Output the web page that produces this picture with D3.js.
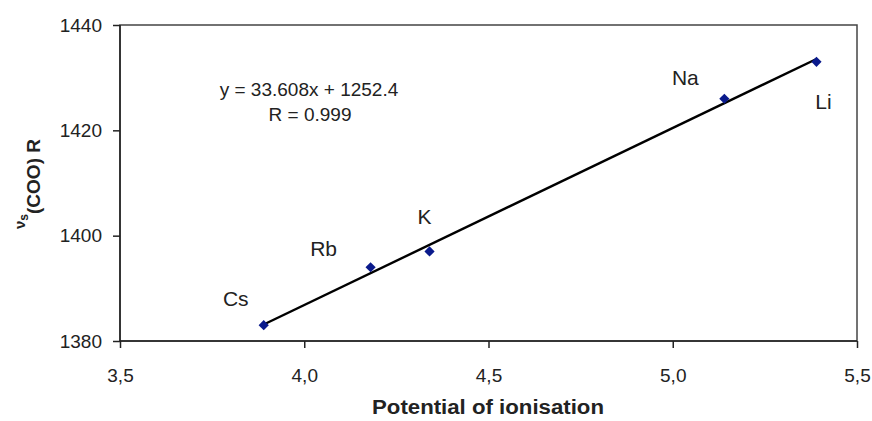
<!DOCTYPE html>
<html><head><meta charset="utf-8">
<script src="https://cdn.jsdelivr.net/npm/d3@7"></script>
<style>body{margin:0;background:#fff}svg{display:block}</style>
</head><body>
<svg id="c" width="872" height="421"></svg>
<script>
const elements = ["Cs","Rb","K","Na","Li"];
const ionisation = [3.89,4.18,4.34,5.14,5.39];
const nuCOO = [1383,1394,1397,1426,1433];
const xTicks = [3.5,4.0,4.5,5.0,5.5];
const yTicks = [1380,1400,1420,1440];
const slope = 33.608, intercept = 1252.4, rValue = 0.999;
const labelOffsets = [[-28,-19],[-47,-11],[-5,-27],[-39,-14],[7,47]];

const svg = d3.select("#c");
const m = {l:120, r:857, t:25, b:341};
const x = d3.scaleLinear().domain([3.5,5.5]).range([m.l,m.r]);
const y = d3.scaleLinear().domain([1380,1440]).range([m.b,m.t]);
const font = "Liberation Sans, Arial, sans-serif";

svg.append("rect").attr("x",m.l).attr("y",m.t).attr("width",m.r-m.l).attr("height",m.b-m.t)
  .attr("fill","none").attr("stroke","#444").attr("stroke-width",1.5);

const ax = svg.append("g").attr("transform",`translate(0,${m.b})`)
  .call(d3.axisBottom(x).tickValues(xTicks).tickSize(7).tickPadding(21).tickFormat(d=>d3.format(".1f")(d).replace(".",",")));
const ay = svg.append("g").attr("transform",`translate(${m.l},0)`)
  .call(d3.axisLeft(y).tickValues(yTicks).tickSize(7).tickPadding(11).tickFormat(d3.format("d")));
[ax,ay].forEach(a=>{
  a.selectAll("path,line").attr("stroke","#222").attr("stroke-width",1.5);
  a.selectAll("text").attr("font-family",font).attr("font-size",19).attr("fill","#222");
});
ax.select(".domain").remove(); ay.select(".domain").remove();
svg.append("line").attr("x1",m.l).attr("x2",m.r).attr("y1",m.b).attr("y2",m.b).attr("stroke","#222").attr("stroke-width",1.5);
svg.append("line").attr("x1",m.l).attr("x2",m.l).attr("y1",m.t).attr("y2",m.b).attr("stroke","#222").attr("stroke-width",1.5);

// trendline
const x0 = d3.min(ionisation), x1 = d3.max(ionisation);
svg.append("line").attr("x1",x(x0)).attr("y1",y(slope*x0+intercept))
  .attr("x2",x(x1)).attr("y2",y(slope*x1+intercept))
  .attr("stroke","#000").attr("stroke-width",2.4);

// points
svg.selectAll("path.pt").data(elements).join("path").attr("class","pt")
  .attr("d",d3.symbol(d3.symbolSquare,52)())
  .attr("transform",(d,i)=>`translate(${x(ionisation[i])},${y(nuCOO[i])}) rotate(45)`)
  .attr("fill","#0a1a8c");

// labels
svg.selectAll("text.lab").data(elements).join("text").attr("class","lab")
  .attr("x",(d,i)=>x(ionisation[i])+labelOffsets[i][0])
  .attr("y",(d,i)=>y(nuCOO[i])+labelOffsets[i][1])
  .attr("text-anchor","middle").attr("font-family",font).attr("font-size",21).attr("fill","#222")
  .text(d=>d);

svg.append("text").attr("x",309).attr("y",96).attr("text-anchor","middle")
  .attr("font-family",font).attr("font-size",19).attr("fill","#222")
  .text(`y = ${slope}x + ${intercept}`);
svg.append("text").attr("x",310).attr("y",121).attr("text-anchor","middle")
  .attr("font-family",font).attr("font-size",19).attr("fill","#222")
  .text(`R = ${rValue}`);

svg.append("text").attr("x",488).attr("y",414).attr("text-anchor","middle")
  .attr("font-family",font).attr("font-size",20).attr("font-weight","bold").attr("fill","#222")
  .attr("textLength",232).attr("lengthAdjust","spacingAndGlyphs")
  .text("Potential of ionisation");

const yt = svg.append("text").attr("transform","translate(40,184) rotate(-90)").attr("text-anchor","middle")
  .attr("font-family",font).attr("font-size",19).attr("font-weight","bold").attr("fill","#222");
yt.append("tspan").attr("font-size",15).attr("dy",-15).text("ν");
yt.append("tspan").attr("font-size",12).attr("dy",3).text("s");
yt.append("tspan").attr("dy",12).text("(COO) R");
</script>
</body></html>
